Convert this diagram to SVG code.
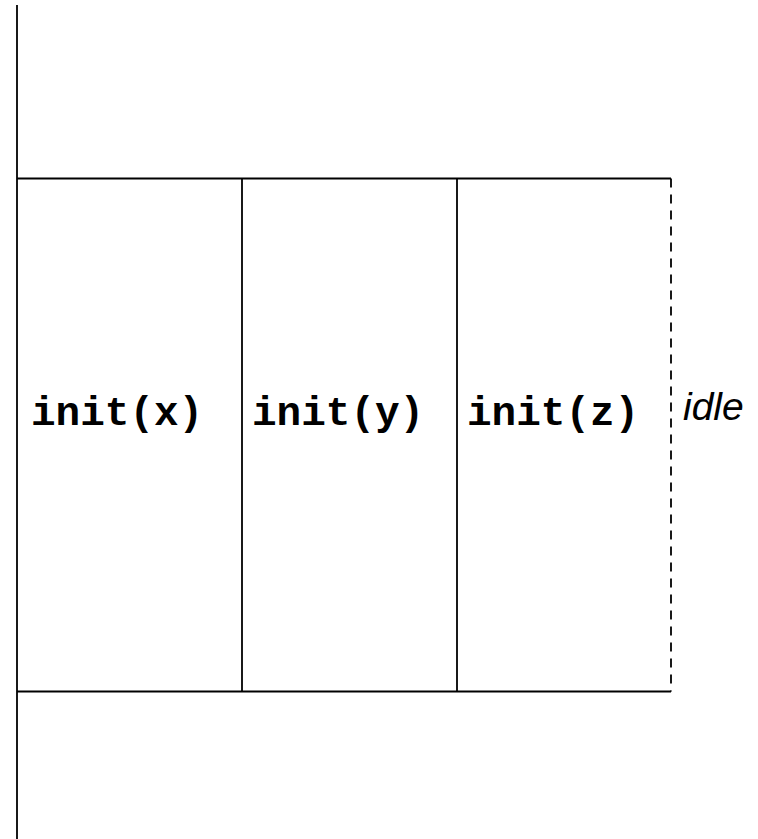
<svg xmlns="http://www.w3.org/2000/svg" width="758" height="839" viewBox="0 0 758 839">
<style>
.ln{stroke:#000;stroke-width:1.8;fill:none}
.dash{stroke:#000;stroke-width:1.8;fill:none;stroke-dasharray:9 7}
.code{font-family:"Liberation Mono",monospace;font-weight:bold;font-size:41px;fill:#000}
.it{font-family:"Liberation Sans",Arial,sans-serif;font-style:italic;font-size:39px;fill:#000}
</style>
<rect width="758" height="839" fill="#fff"/>
<g id="connectors">
<line class="ln" x1="17" y1="5" x2="17" y2="839"/>
<line class="ln" x1="17" y1="178.5" x2="671" y2="178.5"/>
<line class="ln" x1="17" y1="691.5" x2="671" y2="691.5"/>
<line class="dash" x1="671" y1="178.5" x2="671" y2="691.5"/>
</g>
<g id="node-x">
<text class="code" x="31" y="425">init(x)</text>
</g>
<g id="node-y">
<line class="ln" x1="242" y1="178.5" x2="242" y2="691.5"/>
<text class="code" x="252" y="425">init(y)</text>
</g>
<g id="node-z">
<line class="ln" x1="457" y1="178.5" x2="457" y2="691.5"/>
<text class="code" x="467" y="425">init(z)</text>
</g>
<g id="idle">
<text class="it" x="683" y="420">idle</text>
</g>
</svg>
